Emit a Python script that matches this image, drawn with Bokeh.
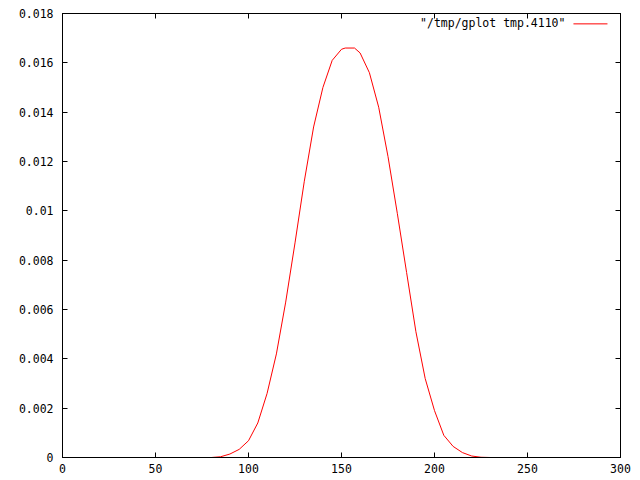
from bokeh.plotting import figure
from bokeh.models import (Range1d, FixedTicker, LinearAxis, Label, Arrow,
                          CustomLabelingPolicy)
from bokeh.embed import file_html
from bokeh.resources import INLINE

# ---- data ----
x_values = [75, 80, 85, 90, 95, 100, 105, 110, 115, 120, 125, 130, 135, 140,
            145, 150, 152, 157, 160, 165, 170, 175, 180, 185, 190, 195, 200,
            205, 210, 215, 220, 225, 230]
y_values = [0.0, 0.0, 0.00003, 0.00014, 0.00033, 0.00068, 0.0014, 0.0026,
            0.0042, 0.0063, 0.0087, 0.0112, 0.0134, 0.0150, 0.0161, 0.01655,
            0.0166, 0.0166, 0.0164, 0.0156, 0.0142, 0.0122, 0.0099, 0.0075,
            0.0051, 0.0032, 0.0019, 0.0009, 0.00045, 0.0002, 0.00006, 0.00001,
            0.0]
series_name = '"/tmp/gplot tmp.4110"'

x_ticks = [0, 50, 100, 150, 200, 250, 300]
x_tick_labels = ["0", "50", "100", "150", "200", "250", "300"]
y_ticks = [0, 0.002, 0.004, 0.006, 0.008, 0.01, 0.012, 0.014, 0.016, 0.018]
y_tick_labels = ["0", "0.002", "0.004", "0.006", "0.008", "0.01", "0.012",
                 "0.014", "0.016", "0.018"]

FONT = "DejaVu Sans Mono"
FSIZE = "11.5px"

p = figure(width=640, height=480, output_backend="svg", toolbar_location=None,
           x_range=Range1d(0, 300), y_range=Range1d(0, 0.018),
           x_axis_location=None, y_axis_location=None,
           min_border_left=62, min_border_right=20,
           min_border_top=13, min_border_bottom=23)
p.grid.visible = False
p.outline_line_color = "black"
p.outline_line_width = 1
p.background_fill_color = "white"
p.border_fill_color = "white"

hide_all = CustomLabelingPolicy(code="""
    for (const i of indices) { indices.unset(i) }
    return indices
""")

def style_axis(ax, ticks, labels, show_labels):
    ax.ticker = FixedTicker(ticks=ticks)
    ax.major_label_overrides = {t: l for t, l in zip(ticks, labels)}
    ax.major_tick_in = 5
    ax.major_tick_out = 0
    ax.minor_tick_in = 0
    ax.minor_tick_out = 0
    ax.axis_line_color = "black"
    ax.major_tick_line_color = "black"
    ax.major_label_text_font = FONT
    ax.major_label_text_font_size = FSIZE
    ax.major_label_text_color = "black"
    ax.major_label_standoff = 6
    if not show_labels:
        # mirror axis (gnuplot style): ticks only, no labels
        ax.major_label_policy = hide_all
        ax.major_label_standoff = 0
        ax.major_label_text_font_size = "1px"

xb = LinearAxis(); style_axis(xb, x_ticks, x_tick_labels, True)
yl = LinearAxis(); style_axis(yl, y_ticks, y_tick_labels, True)
xt = LinearAxis(); style_axis(xt, x_ticks, x_tick_labels, False)
yr = LinearAxis(); style_axis(yr, y_ticks, y_tick_labels, False)
yl.major_label_standoff = 9
p.add_layout(xb, "below")
p.add_layout(yl, "left")
p.add_layout(xt, "above")
p.add_layout(yr, "right")

line = p.line(x_values, y_values, line_color="#ff0000", line_width=1)

# key: text on the left, line sample on the right (gnuplot style)
p.add_layout(Label(x=270.4, y=0.01762, text=series_name, text_font=FONT,
                   text_font_size=FSIZE, text_align="right",
                   text_baseline="middle", text_color="black"))
p.add_layout(Arrow(end=None, x_start=274.7, x_end=293.0,
                   y_start=0.01758, y_end=0.01758,
                   line_color="#ff0000", line_width=1))

open("out.html", "w").write(file_html(p, INLINE))
